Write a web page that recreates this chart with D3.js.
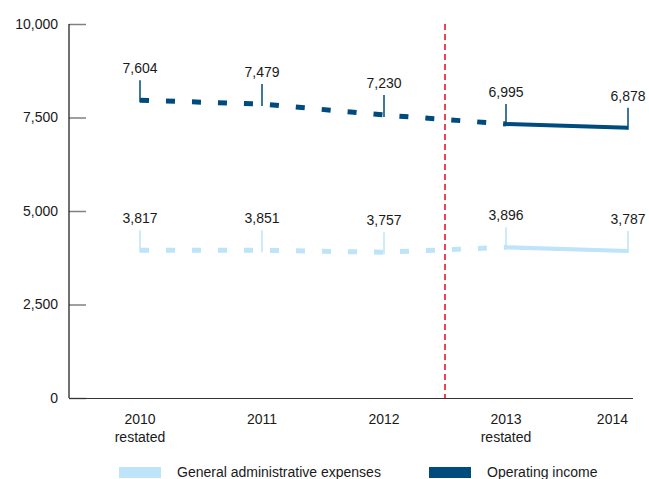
<!DOCTYPE html>
<html>
<head>
<meta charset="utf-8">
<script src="https://cdn.jsdelivr.net/npm/d3@7"></script>
<style>
  html, body { margin: 0; padding: 0; background: #fff; }
  svg text { font-family: "Liberation Sans", Arial, sans-serif; fill: #1a1a1a; }
</style>
</head>
<body>
<svg id="chart" width="649" height="479"></svg>
<script>
// ---- data ----
const categories = ["2010|restated", "2011", "2012", "2013|restated", "2014"];
const operatingPlotted = [7960, 7861, 7567, 7326, 7227];
const operatingLabels = ["7,604", "7,479", "7,230", "6,995", "6,878"];
const gaePlotted = [3949, 3949, 3898, 4029, 3930];
const gaeLabels = ["3,817", "3,851", "3,757", "3,896", "3,787"];
const yTicks = [0, 2500, 5000, 7500, 10000];
const seriesNames = ["General administrative expenses", "Operating income"];
const splitAfter = "2012";
const dashedUntil = 3;

(function () {
// ---- styles ----
const darkBlue = "#004b7d";
const lightBlue = "#bde4f8";
const red = "#ec4452";

const svg = d3.select("#chart");
const pLeft = 69, pRight = 633, pTop = 24, pBottom = 398;

const x = d3.scalePoint().domain(categories).range([pLeft + 71, pRight - 5]);
const y = d3.scaleLinear().domain([0, 10000]).range([pBottom, pTop]);

// y axis
const yAxis = svg.append("g").attr("transform", `translate(${pLeft},0)`)
  .call(d3.axisRight(y).tickValues(yTicks).tickSize(17).tickFormat(""));
yAxis.select(".domain").remove();
yAxis.selectAll(".tick line").attr("stroke", "#808080").attr("stroke-width", 1.5);
svg.append("line").attr("x1", pLeft).attr("x2", pLeft).attr("y1", pTop).attr("y2", pBottom)
  .attr("stroke", "#111").attr("stroke-width", 1.2);
svg.append("g").selectAll("text").data(yTicks).join("text")
  .attr("x", 58).attr("y", d => y(d)).attr("dy", "0.35em")
  .attr("text-anchor", "end").attr("font-size", 14)
  .text(d => d3.format(",")(d));

// x axis
const xAxis = svg.append("g").attr("transform", `translate(0,${pBottom})`)
  .call(d3.axisBottom(x).tickSize(0).tickFormat(""));
xAxis.select(".domain").attr("d", `M${pLeft},0.5H${pRight}`).attr("stroke", "#333").attr("stroke-width", 1.2);
const catLabels = svg.append("g").selectAll("text").data(categories).join("text")
  .attr("font-size", 14)
  .attr("text-anchor", (d, i) => i === categories.length - 1 ? "end" : "middle")
  .attr("x", d => x(d))
  .attr("y", 424);
catLabels.each(function(d) {
  const parts = d.split("|");
  const t = d3.select(this);
  parts.forEach((p, j) => {
    t.append("tspan").attr("x", x(d)).attr("dy", j === 0 ? 0 : 17.5).text(p);
  });
});

// red divider
const idx = categories.findIndex(c => c.startsWith(splitAfter));
const divX = (x(categories[idx]) + x(categories[idx + 1])) / 2;
svg.append("line").attr("x1", divX).attr("x2", divX).attr("y1", pTop).attr("y2", pBottom)
  .attr("stroke", red).attr("stroke-width", 2).attr("stroke-dasharray", "6,4");

// series
function drawSeries(values, labels, color) {
  const pts = categories.map((c, i) => [x(c), y(values[i])]);
  const line = d3.line();
  svg.append("path").attr("d", line(pts.slice(0, dashedUntil + 1)))
    .attr("fill", "none").attr("stroke", color).attr("stroke-width", 5)
    .attr("stroke-dasharray", "9,17");
  svg.append("path").attr("d", line(pts.slice(dashedUntil)))
    .attr("fill", "none").attr("stroke", color).attr("stroke-width", 4);
  const g = svg.append("g");
  g.selectAll("line").data(pts).join("line")
    .attr("x1", d => d[0]).attr("x2", d => d[0])
    .attr("y1", d => d[1] - 20).attr("y2", d => d[1] + 2)
    .attr("stroke", color).attr("stroke-width", 1.5);
  g.selectAll("text").data(pts).join("text")
    .attr("x", d => d[0]).attr("y", d => d[1] - 27)
    .attr("text-anchor", "middle").attr("font-size", 14)
    .text((d, i) => labels[i]);
}
drawSeries(operatingPlotted, operatingLabels, darkBlue);
drawSeries(gaePlotted, gaeLabels, lightBlue);

// legend
const legend = [
  { name: seriesNames[0], color: lightBlue, x: 119 },
  { name: seriesNames[1], color: darkBlue, x: 429 }
];
const lg = svg.append("g").selectAll("g").data(legend).join("g");
lg.append("rect").attr("x", d => d.x).attr("y", 467).attr("width", 42).attr("height", 11)
  .attr("fill", d => d.color);
lg.append("text").attr("x", d => d.x + 58).attr("y", 477).attr("font-size", 14)
  .text(d => d.name);
})();
</script>
</body>
</html>
